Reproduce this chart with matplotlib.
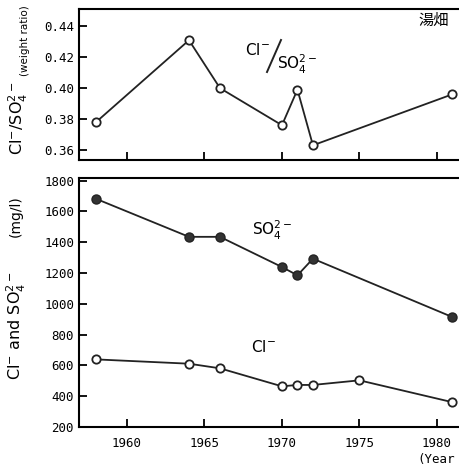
import matplotlib
matplotlib.use("Agg")
import matplotlib.pyplot as plt
from matplotlib.lines import Line2D

plt.rcParams['font.family'] = ['DejaVu Sans', 'Noto Sans CJK JP']

# ratio Cl-/SO4 2- (weight ratio)
ratio_years = [1958, 1964, 1966, 1970, 1971, 1972, 1981]
ratio = [0.378, 0.431, 0.400, 0.376, 0.399, 0.363, 0.396]

# concentrations (mg/l)
so4_years = [1958, 1964, 1966, 1970, 1971, 1972, 1981]
so4 = [1682, 1435, 1435, 1239, 1185, 1293, 914]
cl_years = [1958, 1964, 1966, 1970, 1971, 1972, 1975, 1981]
cl = [639, 611, 581, 464, 473, 473, 503, 361]

year_ticks = [1960, 1965, 1970, 1975, 1980]
ratio_ticks = [0.36, 0.38, 0.40, 0.42, 0.44]
conc_ticks = [200, 400, 600, 800, 1000, 1200, 1400, 1600, 1800]

W, H = 460, 467
fig = plt.figure(figsize=(W / 100, H / 100), dpi=100)


def px(x, y):
    return x / W, 1 - y / H


tick_font = dict(family='DejaVu Sans Mono', size=9)

ax1 = fig.add_axes([0.1717, 0.6574, 0.838, 0.3227])
ax2 = fig.add_axes([0.1717, 0.0857, 0.838, 0.5331])

for ax in (ax1, ax2):
    ax.set_xlim(1956.9, 1981.78)
    ax.set_xticks(year_ticks)
    for s in ax.spines.values():
        s.set_linewidth(1.5)
    ax.spines['right'].set_visible(False)
    ax.tick_params(direction='in', length=6, width=1.3, top=False, right=False)

ax1.plot(ratio_years, ratio, '-o', color='#222222', lw=1.3,
         mfc='white', mec='#222222', mew=1.3, ms=6)
ax1.set_ylim(0.3535, 0.451)
ax1.set_yticks(ratio_ticks)
ax1.set_yticklabels([f"{v:.2f}" for v in ratio_ticks], fontdict=tick_font)
ax1.set_xticklabels([])

ax2.plot(so4_years, so4, '-o', color='#222222', lw=1.3,
         mfc='#333333', mec='#222222', ms=6.5)
ax2.plot(cl_years, cl, '-o', color='#222222', lw=1.3,
         mfc='white', mec='#222222', mew=1.3, ms=6)
ax2.set_ylim(200, 1817)
ax2.set_yticks(conc_ticks)
ax2.set_yticklabels([str(v) for v in conc_ticks], fontdict=tick_font)
ax2.set_xticklabels([str(v) for v in year_ticks], fontdict=tick_font)
ax2.tick_params(axis='x', pad=7)

# axis labels
fig.text(*px(18, 118), r"Cl$^{-}$/SO$_4^{2-}$", rotation=90, ha='center', va='center', fontsize=11.5)
fig.text(*px(25, 41), "(weight ratio)", rotation=90, ha='center', va='center', fontsize=7.5)
fig.text(*px(16, 326), r"Cl$^{-}$ and SO$_4^{2-}$", rotation=90, ha='center', va='center', fontsize=11.5)
fig.text(*px(16, 216), "(mg/l)", rotation=90, ha='center', va='center', fontsize=10)
fig.text(*px(417, 459), "(Year", ha='left', va='center', fontsize=9, family='DejaVu Sans Mono')

# annotations
fig.text(*px(434, 20), "湯畑", ha='center', va='center', fontsize=11, family=['Noto Sans CJK JP'])
fig.text(*px(257, 50), r"Cl$^{-}$", ha='center', va='center', fontsize=11)
fig.add_artist(Line2D([267 / W, 281 / W], [1 - 72 / H, 1 - 40 / H], color='#222222', lw=1.4))
fig.text(*px(297, 64), r"SO$_4^{2-}$", ha='center', va='center', fontsize=11)
fig.text(*px(272, 230), r"SO$_4^{2-}$", ha='center', va='center', fontsize=11)
fig.text(*px(263, 347), r"Cl$^{-}$", ha='center', va='center', fontsize=11)

fig.savefig("out.png", dpi=100)
